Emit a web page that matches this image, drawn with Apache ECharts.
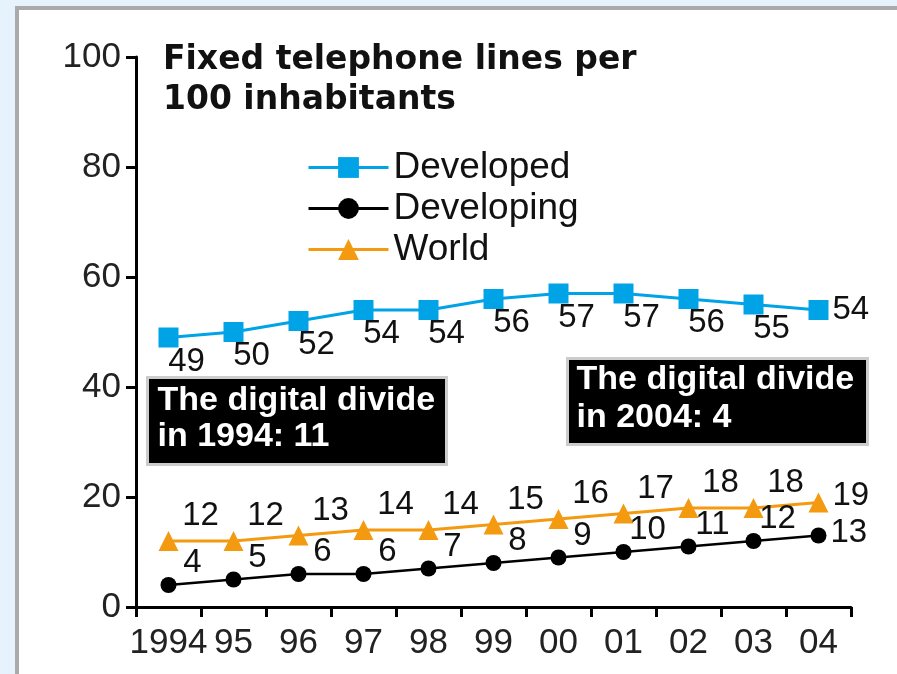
<!DOCTYPE html>
<html>
<head>
<meta charset="utf-8">
<script src="https://cdn.jsdelivr.net/npm/echarts@6/dist/echarts.min.js"></script>
<style>
html,body{margin:0;padding:0;width:897px;height:674px;overflow:hidden;background:#e6f2fc;}
#panel{position:absolute;left:15px;top:6px;width:1000px;height:800px;background:#fff;border:4px solid #aaaaaa;}
#chart{position:absolute;left:0;top:0;width:897px;height:674px;}
</style>
</head>
<body>
<div id="panel"></div>
<div id="chart"></div>
<script>
const categories = ['1994','95','96','97','98','99','00','01','02','03','04'];
const developed = [49,50,52,54,54,56,57,57,56,55,54];
const developing = [4,5,6,6,7,8,9,10,11,12,13];
const world = [12,12,13,14,14,15,16,17,18,18,19];
const yTicks = [0,20,40,60,80,100];

const FONT = 'Liberation Sans, Arial, sans-serif';
const BLUE = '#00a3e6';
const ORANGE = '#f39a10';

function build(arr, lastOffset) {
  return arr.map((v, i) => i === arr.length - 1
    ? {value: v, label: {position: 'right', distance: 4, offset: lastOffset}}
    : v);
}

const chart = echarts.init(document.getElementById('chart'), null, {renderer: 'canvas'});
chart.setOption({
  animation: false,
  backgroundColor: 'transparent',
  textStyle: {fontFamily: FONT},
  grid: {left: 136, right: 46, top: 57, bottom: 67},
  legend: {
    orient: 'vertical',
    left: 302, top: 144,
    itemWidth: 80, itemHeight: 26, itemGap: 4,
    lineStyle: {width: 3},
    textStyle: {fontSize: 37, lineHeight: 26, color: '#111', fontFamily: FONT},
    data: ['Developed', 'Developing', 'World']
  },
  xAxis: {
    type: 'category',
    data: categories,
    boundaryGap: true,
    axisLine: {lineStyle: {color: '#000', width: 3}},
    axisTick: {show: true, length: 10, interval: 0, lineStyle: {color: '#000', width: 3}},
    axisLabel: {fontSize: 35, color: '#222', margin: 19, interval: 0, fontFamily: FONT}
  },
  yAxis: {
    type: 'value',
    min: yTicks[0], max: yTicks[yTicks.length - 1], interval: 20,
    splitLine: {show: false},
    axisLine: {show: true, lineStyle: {color: '#000', width: 3}},
    axisTick: {show: true, length: 10, lineStyle: {color: '#000', width: 3}},
    axisLabel: {fontSize: 35, color: '#222', margin: 15, fontFamily: FONT}
  },
  graphic: [
    {type: 'text', left: 163, top: 40, style: {text: 'Fixed telephone lines per\n100 inhabitants', font: 'bold 33px DejaVu Sans', lineHeight: 40, fill: '#111'}},
    {type: 'group', left: 146, top: 376, children: [
      {type: 'rect', shape: {x: 0, y: 0, width: 299, height: 87}, style: {fill: '#000', stroke: '#cccccc', lineWidth: 3}},
      {type: 'text', x: 10, y: 5, style: {text: 'The digital divide\nin 1994: 11', font: 'bold 34px Liberation Sans', lineHeight: 36, fill: '#fff'}}
    ]},
    {type: 'group', left: 566, top: 357, children: [
      {type: 'rect', shape: {x: 0, y: 0, width: 300, height: 86}, style: {fill: '#000', stroke: '#cccccc', lineWidth: 3}},
      {type: 'text', x: 9, y: 2, style: {text: 'The digital divide\nin 2004: 4', font: 'bold 34px Liberation Sans', lineHeight: 38, fill: '#fff'}}
    ]}
  ],
  series: [
    {
      name: 'Developed', type: 'line', data: build(developed, [0, 0]),
      symbol: 'rect', symbolSize: 20,
      lineStyle: {color: BLUE, width: 3}, itemStyle: {color: BLUE},
      label: {show: true, position: 'inside', offset: [18, 24], fontSize: 33, color: '#111', fontFamily: FONT}
    },
    {
      name: 'Developing', type: 'line', data: build(developing, [0, -3]),
      symbol: 'circle', symbolSize: 16,
      lineStyle: {color: '#000', width: 2.5}, itemStyle: {color: '#000'},
      label: {show: true, position: 'inside', offset: [24, -22], fontSize: 33, color: '#111', fontFamily: FONT}
    },
    {
      name: 'World', type: 'line', data: build(world, [0, -7]),
      symbol: 'triangle', symbolSize: 20,
      lineStyle: {color: ORANGE, width: 3}, itemStyle: {color: ORANGE},
      label: {show: true, position: 'inside', offset: [32, -25], fontSize: 33, color: '#111', fontFamily: FONT}
    }
  ]
});
</script>
</body>
</html>
